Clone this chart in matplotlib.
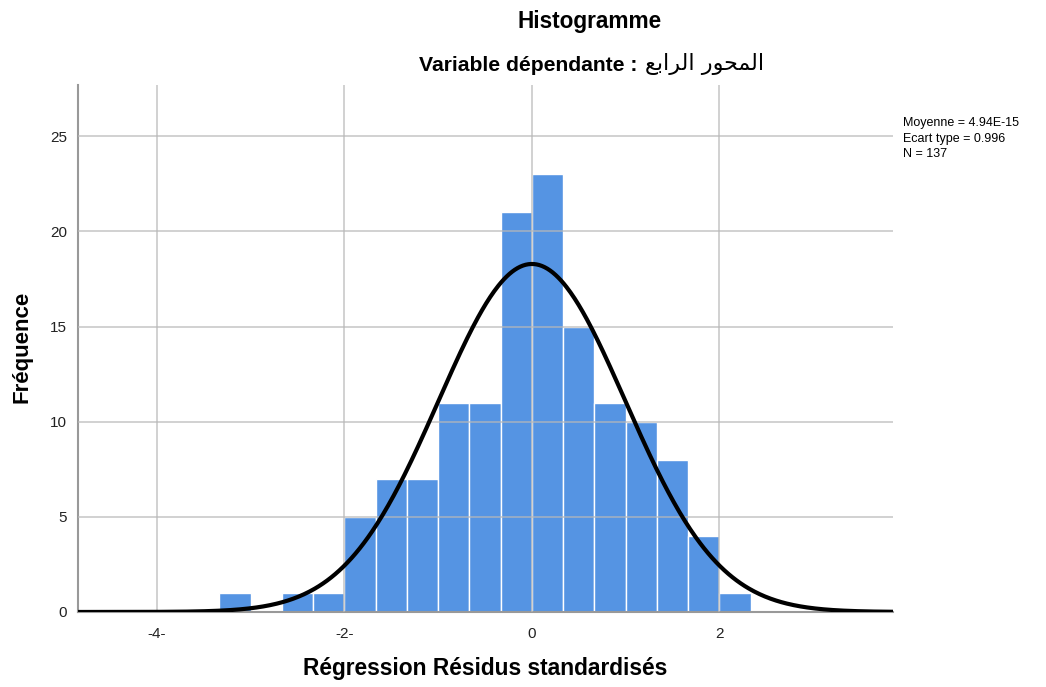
import numpy as np
import matplotlib
matplotlib.use("Agg")
import matplotlib.pyplot as plt

# Histogram of standardized regression residuals
bin_width = 1 / 3
bin_start = -10 * bin_width
counts = [1, 0, 1, 1, 5, 7, 7, 11, 11, 21, 23, 15, 11, 10, 8, 4, 1]
mean = 4.94e-15
std = 0.996
n_obs = 137

x_ticks = [-4, -2, 0, 2]
x_tick_labels = ["-4-", "-2-", "0", "2"]
y_ticks = [0, 5, 10, 15, 20, 25]

title_main = "Histogramme"
# Arabic name in shaped presentation forms, visual order
arabic_name = "\uFECA\uFE91\uFE8D\uFEAE\uFEDF\uFE8D \uFEAD\uFEEE\uFEA4\uFEE4\uFEDF\uFE8D"
title_sub = "Variable dépendante :"
x_label = "Régression Résidus standardisés"
y_label = "Fréquence"
stats_text = f"Moyenne = {mean:.2E}\nEcart type = {std:.3f}\nN = {n_obs}"

fig = plt.figure(figsize=(10.46, 6.87), dpi=100)
ax = fig.add_axes([0.0746, 0.1092, 0.7791, 0.7671])

edges = bin_start + bin_width * np.arange(len(counts) + 1)
lefts = edges[:-1]
ax.bar(lefts, counts, width=bin_width, align="edge", color="#5594e3",
       edgecolor="white", linewidth=1.0, zorder=2)

# Grid drawn over the bars
for yt in y_ticks[1:]:
    ax.axhline(yt, color="#b8b8b8", lw=1.4, alpha=0.65, zorder=3)
for xt in x_ticks:
    ax.axvline(xt, color="#b8b8b8", lw=1.4, alpha=0.65, zorder=3)

xs = np.linspace(-4.84, 3.85, 600)
pdf = n_obs * bin_width / (std * np.sqrt(2 * np.pi)) * np.exp(-0.5 * ((xs - mean) / std) ** 2)
ax.plot(xs, pdf, color="black", lw=3.0, zorder=4, solid_capstyle="butt")

ax.set_xlim(-4.84, 3.85)
ax.set_ylim(0, 27.7)
ax.set_xticks(x_ticks)
ax.set_xticklabels(x_tick_labels)
ax.set_yticks(y_ticks)
ax.tick_params(axis="y", length=0, labelsize=11, colors="#222222", pad=8)
ax.tick_params(axis="x", length=0, labelsize=11, colors="#222222", pad=11)
for lbl in ax.get_xticklabels() + ax.get_yticklabels():
    lbl.set_fontfamily(["Liberation Sans", "DejaVu Sans"])

for side in ["top", "right"]:
    ax.spines[side].set_visible(False)
ax.spines["left"].set_color("#999999")
ax.spines["left"].set_linewidth(1.5)
ax.spines["bottom"].set_color("#999999")
ax.spines["bottom"].set_linewidth(1.5)

fam = ["Liberation Sans", "DejaVu Sans"]
fig.text(0.564, 0.968, title_main, ha="center", va="center", fontsize=16.3,
         fontweight="bold", family=fam)
fig.text(0.6095, 0.905, title_sub, ha="right", va="center",
         fontsize=15.2, fontweight="bold", family=fam)
fig.text(0.6165, 0.907, arabic_name, ha="left", va="center",
         fontsize=16, fontweight="normal", family=["DejaVu Sans"])
fig.text(0.4637, 0.027, x_label, ha="center", va="center", fontsize=16.4,
         fontweight="bold", family=fam)
fig.text(0.021, 0.495, y_label, ha="center", va="center", rotation=90,
         fontsize=16, fontweight="bold", family=fam)
fig.text(0.863, 0.830, stats_text, ha="left", va="top", fontsize=9,
         family=fam, linespacing=1.42)

fig.savefig("out.png", dpi=100)
